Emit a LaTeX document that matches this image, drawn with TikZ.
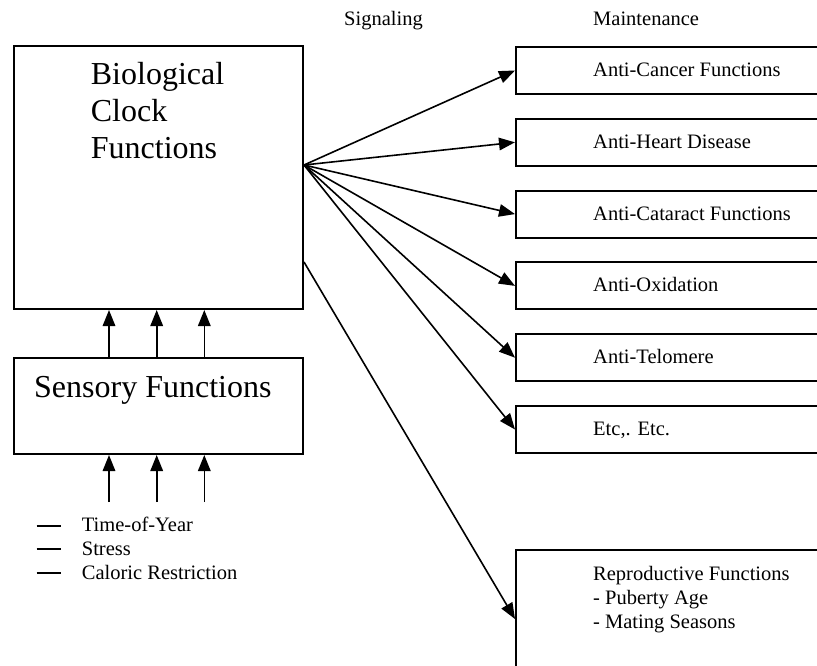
\documentclass[tikz,border=0pt]{standalone}
\usepackage{fontspec}
\setmainfont{Liberation Serif}
\usetikzlibrary{arrows.meta,calc}
\begin{document}
\begin{tikzpicture}[x=1pt,y=-1pt,
  boxstyle/.style={draw, line width=2pt, inner sep=0pt, anchor=north west},
  rbox/.style={boxstyle, minimum width=400pt, minimum height=47pt},
  lbl/.style={inner sep=0pt, anchor=base west, font=\fontsize{20.5}{24}\selectfont},
  biglbl/.style={inner sep=0pt, anchor=base west, font=\fontsize{32}{36.7}\selectfont},
  arr/.style={line width=1.6pt, -{Triangle[length=16pt,width=12.5pt]}},
  dashmark/.style={line width=2pt}]
\useasboundingbox (0,0) rectangle (817,666);
\clip (0,0) rectangle (817,666);
% left boxes
\node[boxstyle, minimum width=289pt, minimum height=263pt] (clock) at (13,45) {};
\node[biglbl] (clk1) at (90.7,85) {Biological};
\node[biglbl] (clk2) at (90.7,121.7) {Clock};
\node[biglbl] (clk3) at (90.7,158.3) {Functions};
\node[boxstyle, minimum width=289pt, minimum height=96pt] (sens) at (13,357) {};
\node[biglbl] (senslbl) at (34,397) {Sensory Functions};
% headers
\node[lbl] (sig) at (344,26) {Signaling};
\node[lbl] (maint) at (593,26) {Maintenance};
% right boxes
\node[rbox] (b1) at (515,46) {};
\node[rbox] (b2) at (515,117.8) {};
\node[rbox] (b3) at (515,189.6) {};
\node[rbox] (b4) at (515,261.4) {};
\node[rbox] (b5) at (515,333.2) {};
\node[rbox] (b6) at (515,405) {};
\node[boxstyle, minimum width=400pt, minimum height=138pt] (b7) at (515,549) {};
\node[lbl] (t1) at (593,76.5) {Anti-Cancer Functions};
\node[lbl] (t2) at (593,148.3) {Anti-Heart Disease};
\node[lbl] (t3) at (593,220.1) {Anti-Cataract Functions};
\node[lbl] (t4) at (593,291.9) {Anti-Oxidation};
\node[lbl] (t5) at (593,363.7) {Anti-Telomere};
\node[lbl] (t6) at (593,435.5) {Etc,. Etc.};
\node[lbl] (t7a) at (593,580) {Reproductive Functions};
\node[lbl] (t7b) at (593,604) {- Puberty Age};
\node[lbl] (t7c) at (593,628) {- Mating Seasons};
% fan arrows
\coordinate (fan) at ($(clock.north east)+(0,120)$);
\coordinate (fan2) at ($(clock.north east)+(0,217)$);
\foreach \b in {b1,b2,b3,b4,b5,b6}
  \draw[arr] (fan) -- (\b.west);
\draw[arr] (fan2) -- (b7.west);
% vertical arrows
\coordinate (v1) at (109,502);
\coordinate (v2) at (156.7,502);
\coordinate (v3) at (204.3,502);
\foreach \v in {v1,v2,v3}{
  \draw[arr] (\v) -- (\v |- sens.south);
  \draw[arr] (sens.north -| \v) -- (clock.south -| \v);
}
% legend
\draw[dashmark] (36.7,525.7) -- (60.7,525.7);
\draw[dashmark] (36.7,549) -- (60.7,549);
\draw[dashmark] (36.7,572.8) -- (60.7,572.8);
\node[lbl] (l1) at (81.7,531) {Time-of-Year};
\node[lbl] (l2) at (81.7,555) {Stress};
\node[lbl] (l3) at (81.7,579) {Caloric Restriction};
\end{tikzpicture}
\end{document}
